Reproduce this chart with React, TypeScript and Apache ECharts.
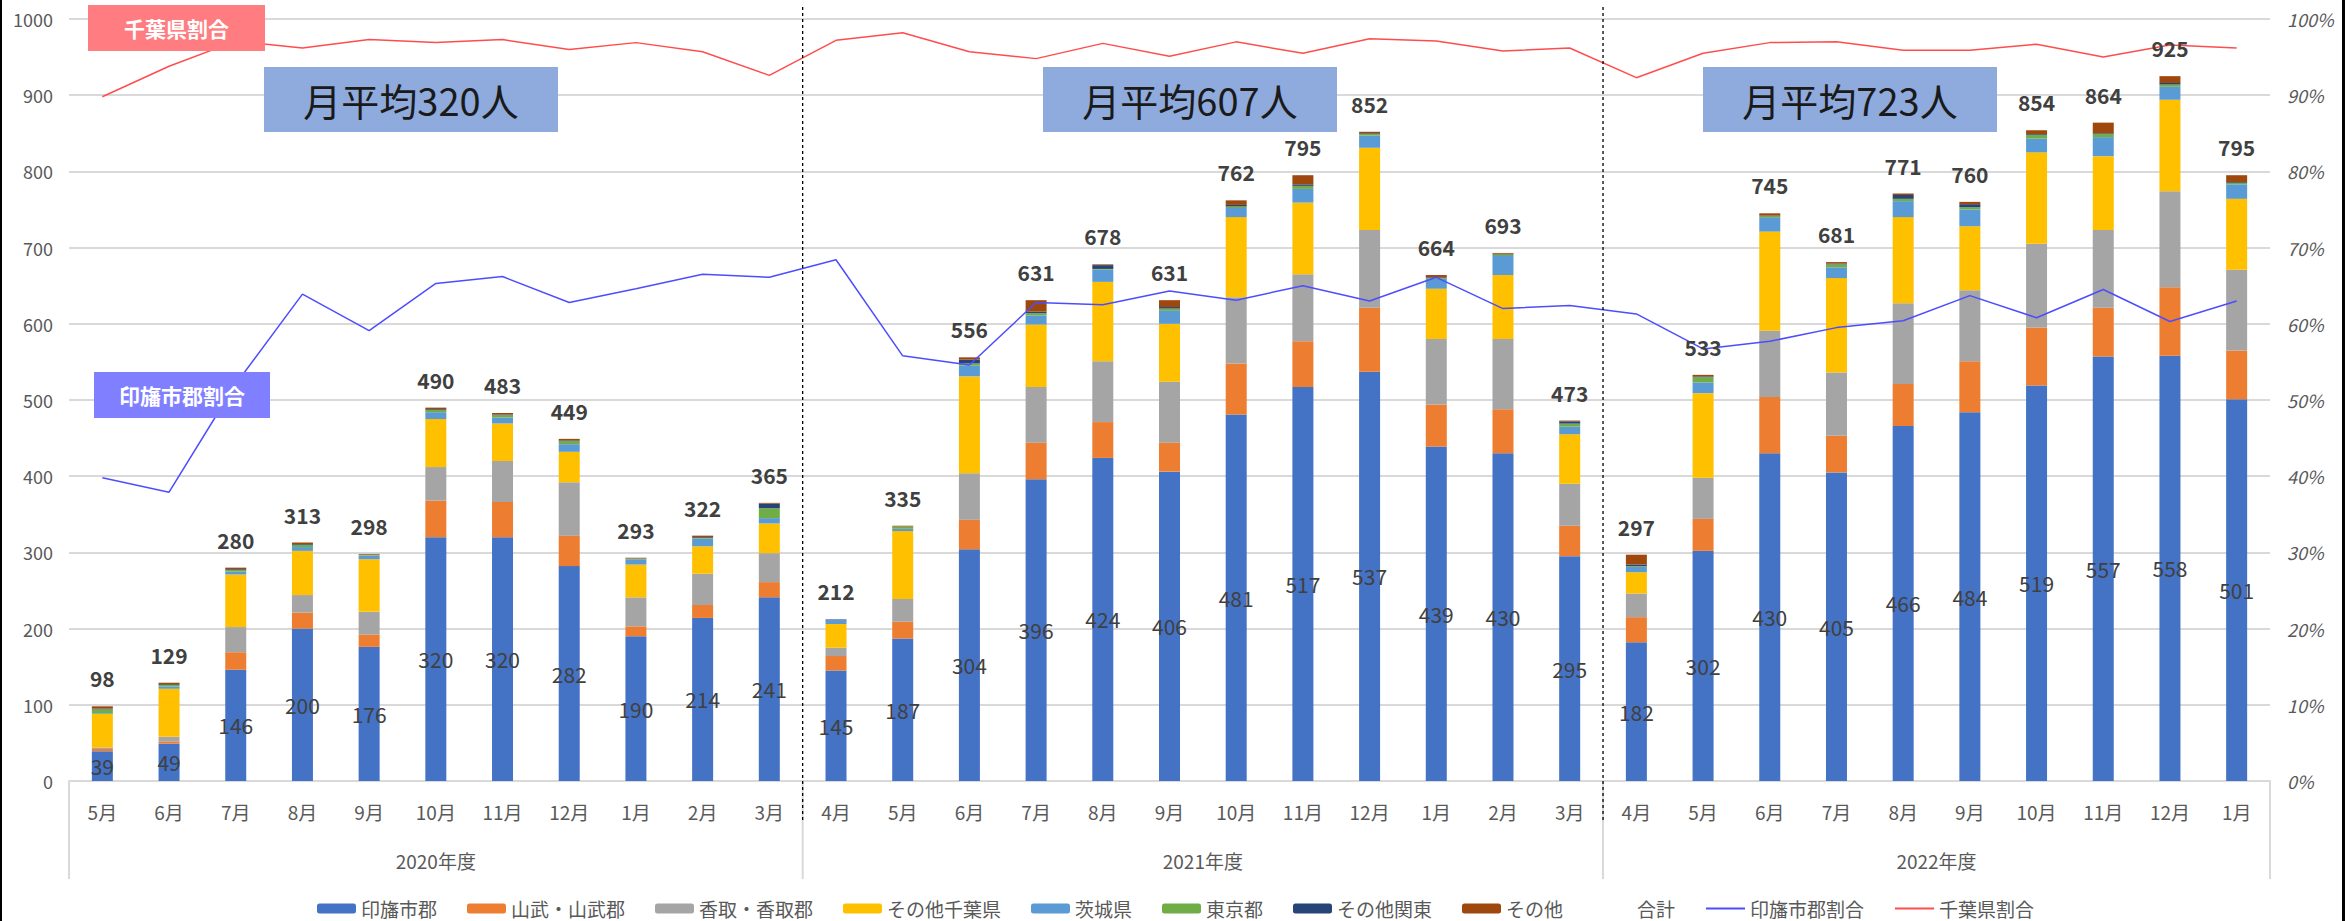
import React, { useEffect, useRef } from "react";
import * as echarts from "echarts";

// ---- data ----
const CATEGORY_KEYS = [
  "2020-05","2020-06","2020-07","2020-08","2020-09","2020-10","2020-11","2020-12","2021-01","2021-02","2021-03",
  "2021-04","2021-05","2021-06","2021-07","2021-08","2021-09","2021-10","2021-11","2021-12","2022-01","2022-02","2022-03",
  "2022-04","2022-05","2022-06","2022-07","2022-08","2022-09","2022-10","2022-11","2022-12","2023-01",
];
const MONTH_LABELS = [
  "5月","6月","7月","8月","9月","10月","11月","12月","1月","2月","3月",
  "4月","5月","6月","7月","8月","9月","10月","11月","12月","1月","2月","3月",
  "4月","5月","6月","7月","8月","9月","10月","11月","12月","1月",
];
const YEAR_GROUPS = [
  { label: "2020年度", count: 11 },
  { label: "2021年度", count: 12 },
  { label: "2022年度", count: 10 },
];

const INBA = [39,49,146,200,176,320,320,282,190,214,241, 145,187,304,396,424,406,481,517,537,439,430,295, 182,302,430,405,466,484,519,557,558,501];
const SANBU = [3,3,23,21,16,48,46,40,13,17,20, 19,22,39,48,47,38,67,60,84,55,58,40, 33,42,74,48,55,67,76,64,90,64];
const KATORI = [2,6,33,23,30,44,54,70,38,41,38, 11,30,61,73,80,80,87,88,102,86,92,55, 31,54,87,83,106,93,110,102,126,106];
const OTHER_CHIBA = [44,63,69,58,69,63,49,40,43,36,39, 31,89,127,82,104,76,105,94,108,66,84,65, 28,111,130,124,113,84,120,97,120,93];
const IBARAKI = [1,3,4,5,5,9,8,10,7,10,7, 5,3,14,12,16,17,12,18,16,13,25,10, 7,14,18,14,21,22,18,25,17,19];
const TOKYO = [5,2,2,3,1,3,3,4,1,1,13, 0,3,3,3,1,3,2,4,2,1,2,4, 1,7,2,4,3,3,5,4,3,2];
const OTHER_KANTO = [1,1,1,1,0,1,1,1,0,1,6, 1,0,5,2,5,2,2,2,1,1,1,3, 2,1,1,1,5,4,1,1,2,1];
const OTHER = [3,2,2,2,1,2,2,2,1,2,1, 0,1,3,15,1,9,6,12,2,3,1,1, 13,2,3,2,2,3,5,14,9,9];
const TOTAL = [98,129,280,313,298,490,483,449,293,322,365, 212,335,556,631,678,631,762,795,852,664,693,473, 297,533,745,681,771,760,854,864,925,795];

const INBA_PCT = [39.8,37.9,52.1,63.9,59.1,65.3,66.2,62.8,64.6,66.5,66.1, 68.4,55.8,54.6,62.8,62.5,64.3,63.1,65.0,63.0,66.1,62.0,62.4, 61.3,56.7,57.7,59.5,60.4,63.7,60.8,64.5,60.3,63.0];
const CHIBA_PCT = [89.8,93.8,97.1,96.2,97.3,96.9,97.3,96.0,96.9,95.7,92.6, 97.2,98.2,95.7,94.8,96.8,95.1,97.0,95.5,97.4,97.1,95.8,96.2, 92.3,95.5,96.9,97.0,95.9,95.9,96.7,95.0,96.6,96.2];

const Y_LEFT_MAX = 1000;
const Y_LEFT_INTERVAL = 100;
const Y_RIGHT_MAX = 100;
const Y_RIGHT_INTERVAL = 10;

const AVERAGE_TEXTS = ["月平均320人", "月平均607人", "月平均723人"];

const STACK_SERIES = [
  { name: "印旛市郡", data: INBA, color: "#4472C4" },
  { name: "山武・山武郡", data: SANBU, color: "#ED7D31" },
  { name: "香取・香取郡", data: KATORI, color: "#A5A5A5" },
  { name: "その他千葉県", data: OTHER_CHIBA, color: "#FFC000" },
  { name: "茨城県", data: IBARAKI, color: "#5B9BD5" },
  { name: "東京都", data: TOKYO, color: "#70AD47" },
  { name: "その他関東", data: OTHER_KANTO, color: "#264478" },
  { name: "その他", data: OTHER, color: "#9E480E" },
];

// ---- layout ----
const W = 2351;
const H = 921;
const GRID_LEFT = 69;
const GRID_RIGHT = 81;
const GRID_TOP = 19;
const GRID_BOTTOM = 140;
const FONT = "'Noto Sans CJK JP', 'Noto Sans', sans-serif";
const GRAY_TEXT = "#595959";
const LABEL_TEXT = "#404040";
const GRID_LINE = "#D9D9D9";

export default function App() {
  const ref = useRef<HTMLDivElement>(null);

  useEffect(() => {
    if (!ref.current) return;
    const chart = echarts.init(ref.current, undefined, { renderer: "svg" });

    const plotW = W - GRID_LEFT - GRID_RIGHT;
    const n = CATEGORY_KEYS.length;
    const catW = plotW / n;
    const axisY = H - GRID_BOTTOM;

    const graphics: any[] = [];
    let acc = 0;
    const boundaries = [0];
    YEAR_GROUPS.forEach((g) => {
      const start = acc;
      acc += g.count;
      boundaries.push(acc);
      graphics.push({
        type: "text",
        x: GRID_LEFT + ((start + acc) / 2) * catW,
        y: 860,
        style: {
          text: g.label,
          fill: GRAY_TEXT,
          font: `19px ${FONT}`,
          align: "center",
          verticalAlign: "middle",
        },
      });
    });
    boundaries.forEach((b) => {
      graphics.push({
        type: "line",
        shape: { x1: GRID_LEFT + b * catW, y1: axisY, x2: GRID_LEFT + b * catW, y2: 879 },
        style: { stroke: GRID_LINE, lineWidth: 2 },
      });
    });
    boundaries.slice(1, -1).forEach((b) => {
      graphics.push({
        type: "line",
        z: 100,
        shape: { x1: GRID_LEFT + b * catW, y1: 7, x2: GRID_LEFT + b * catW, y2: 822 },
        style: { stroke: "#000", lineWidth: 1.3, lineDash: [3, 3] },
      });
    });

    const addBox = (x: number, y: number, w: number, h: number, fill: string, text: string, font: string, color: string) => {
      graphics.push({
        type: "rect",
        z: 50,
        shape: { x, y, width: w, height: h },
        style: { fill },
      });
      graphics.push({
        type: "text",
        z: 51,
        x: x + w / 2,
        y: y + h / 2,
        style: { text, fill: color, font, align: "center", verticalAlign: "middle" },
      });
    };

    const avgBoxes = [264, 1043, 1703];
    AVERAGE_TEXTS.forEach((t, i) => {
      addBox(avgBoxes[i], 67, 294, 65, "#8FAADC", t, `38px ${FONT}`, "#1a1a1a");
    });
    addBox(88, 5, 177, 46, "#FF7C80", "千葉県割合", `bold 21px ${FONT}`, "#ffffff");
    addBox(94, 372, 176, 46, "#7F7FFF", "印旛市郡割合", `bold 21px ${FONT}`, "#ffffff");

    graphics.push({ type: "rect", shape: { x: 0, y: 0, width: 2, height: H }, style: { fill: "#000" } });
    graphics.push({ type: "rect", shape: { x: 2342, y: 0, width: 3, height: H }, style: { fill: "#000" } });

    const series: any[] = STACK_SERIES.map((s, i) => ({
      name: s.name,
      type: "bar",
      stack: "total",
      barWidth: 21,
      data: s.data,
      itemStyle: { color: s.color },
      label:
        i === 0
          ? { show: true, position: "inside", color: LABEL_TEXT, fontSize: 21, fontFamily: FONT }
          : { show: false },
    }));
    series.push({
      name: "合計",
      type: "line",
      data: TOTAL,
      symbol: "circle",
      symbolSize: 1,
      showSymbol: true,
      lineStyle: { opacity: 0, width: 0 },
      itemStyle: { color: "rgba(0,0,0,0)" },
      z: 10,
      label: {
        show: true,
        position: "top",
        distance: 17,
        color: LABEL_TEXT,
        fontSize: 21,
        fontWeight: "bold",
        fontFamily: FONT,
      },
    });
    series.push({
      name: "印旛市郡割合",
      type: "line",
      yAxisIndex: 1,
      data: INBA_PCT,
      symbol: "none",
      lineStyle: { color: "#4D4DFF", width: 1.5 },
      itemStyle: { color: "#4D4DFF" },
      z: 5,
    });
    series.push({
      name: "千葉県割合",
      type: "line",
      yAxisIndex: 1,
      data: CHIBA_PCT,
      symbol: "none",
      lineStyle: { color: "#FF4D4D", width: 1.5 },
      itemStyle: { color: "#FF4D4D" },
      z: 5,
    });

    const legendData: any[] = [
      ...STACK_SERIES.map((s) => ({ name: s.name })),
      { name: "合計", itemStyle: { opacity: 0 }, lineStyle: { opacity: 0 } },
      { name: "印旛市郡割合", itemStyle: { opacity: 0 } },
      { name: "千葉県割合", itemStyle: { opacity: 0 } },
    ];

    chart.setOption({
      animation: false,
      textStyle: { fontFamily: FONT },
      grid: { left: GRID_LEFT, right: GRID_RIGHT, top: GRID_TOP, bottom: GRID_BOTTOM, containLabel: false },
      legend: {
        data: legendData,
        left: "center",
        top: 894,
        itemWidth: 39,
        itemHeight: 10,
        itemGap: 30,
        textStyle: { color: GRAY_TEXT, fontSize: 19, fontFamily: FONT },
      },
      xAxis: {
        type: "category",
        data: CATEGORY_KEYS,
        axisLine: { show: true, lineStyle: { color: GRID_LINE, width: 2 } },
        axisTick: { show: false },
        axisLabel: {
          color: GRAY_TEXT,
          fontSize: 19,
          margin: 21,
          interval: 0,
          formatter: (_v: string, idx: number) => MONTH_LABELS[idx],
        },
      },
      yAxis: [
        {
          type: "value",
          min: 0,
          max: Y_LEFT_MAX,
          interval: Y_LEFT_INTERVAL,
          axisLine: { show: false },
          axisTick: { show: false },
          splitLine: { lineStyle: { color: GRID_LINE, width: 2 } },
          axisLabel: { color: GRAY_TEXT, fontSize: 18, margin: 16, formatter: (v: number) => String(v) },
        },
        {
          type: "value",
          min: 0,
          max: Y_RIGHT_MAX,
          interval: Y_RIGHT_INTERVAL,
          axisLine: { show: false },
          axisTick: { show: false },
          splitLine: { show: false },
          axisLabel: {
            color: GRAY_TEXT,
            fontSize: 18,
            fontStyle: "italic",
            margin: 17,
            formatter: "{value}%",
          },
        },
      ],
      series,
      graphic: graphics,
    });

    return () => chart.dispose();
  }, []);

  return (
    <div
      ref={ref}
      style={{ position: "fixed", left: 0, top: 0, width: W, height: H, background: "#fff" }}
    />
  );
}
